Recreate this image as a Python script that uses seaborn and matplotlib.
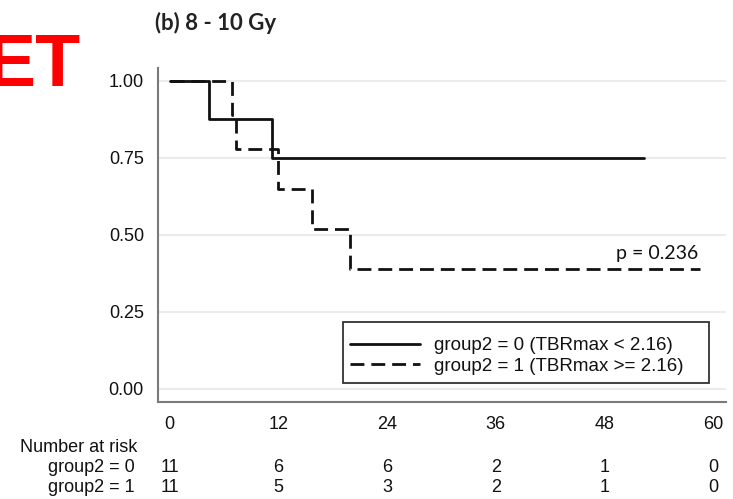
import numpy as np
import pandas as pd
import matplotlib
matplotlib.use("Agg")
import matplotlib.pyplot as plt
import matplotlib.patches as mpatches
import matplotlib.transforms as mtransforms
import seaborn as sns

# Kaplan-Meier step points (months, survival probability)
time_g0 = [0, 4.39, 11.28, 52.4]
surv_g0 = [1.0, 0.875, 0.75, 0.75]
time_g1 = [0, 6.86, 7.3, 11.94, 15.69, 19.9, 58.5]
surv_g1 = [1.0, 0.889, 0.778, 0.648, 0.519, 0.389, 0.389]

group_labels = ["group2 = 0 (TBRmax < 2.16)", "group2 = 1 (TBRmax >= 2.16)"]
risk_names = ["group2 = 0", "group2 = 1"]
risk_times = [0, 12, 24, 36, 48, 60]
risk_g0 = [11, 6, 6, 2, 1, 0]
risk_g1 = [11, 5, 3, 2, 1, 0]
x_ticks = [0, 12, 24, 36, 48, 60]
y_ticks = [0.0, 0.25, 0.50, 0.75, 1.00]
p_text = "p = 0.236"
title_text = "(b) 8 - 10 Gy"

df = pd.concat([
    pd.DataFrame({"time": time_g0, "surv": surv_g0, "group": group_labels[0]}),
    pd.DataFrame({"time": time_g1, "surv": surv_g1, "group": group_labels[1]}),
], ignore_index=True)

sns.set_theme(style="white")
plt.rcParams["font.family"] = ["Liberation Sans", "DejaVu Sans"]

W, H = 733, 499
fig = plt.figure(figsize=(W / 100, H / 100), dpi=100)
ax = fig.add_axes([158 / W, 1 - 402 / H, (726 - 158) / W, (402 - 68) / H])

sns.lineplot(
    data=df, x="time", y="surv", style="group", hue="group",
    palette={group_labels[0]: "#111111", group_labels[1]: "#111111"},
    dashes={group_labels[0]: "", group_labels[1]: (5, 2.5)},
    drawstyle="steps-post", linewidth=2.0, estimator=None, sort=False,
    ax=ax, legend=False,
)

ax.set_xlim(-1.27, 61.4)
ax.set_ylim(-0.0435, 1.041)
ax.set_xticks(x_ticks)
ax.set_yticks(y_ticks)
ax.set_yticklabels([f"{v:.2f}" for v in y_ticks])
ax.set_xlabel("")
ax.set_ylabel("")

ax.grid(axis="y", color="#ebebeb", linewidth=1.5)
ax.grid(axis="x", visible=False)
ax.set_axisbelow(True)
for side in ["top", "right"]:
    ax.spines[side].set_visible(False)
for side in ["left", "bottom"]:
    ax.spines[side].set_color("#7a7a7a")
    ax.spines[side].set_linewidth(1.5)
ax.tick_params(axis="both", direction="out", width=1.2, color="#7a7a7a",
               labelsize=13, labelcolor="#111111")
ax.tick_params(axis="y", length=6.5, pad=3.6)
ax.tick_params(axis="x", length=5, pad=5)

# Legend: entries plus a plain rectangular frame
handles = ax.get_lines()[:2]
leg = fig.legend(handles, group_labels, loc="center left",
                 bbox_to_anchor=(350 / W, 1 - 356 / H), bbox_transform=fig.transFigure,
                 frameon=False, fontsize=13.5, handlelength=3.75, handletextpad=0.75,
                 borderpad=0, labelspacing=0.2, borderaxespad=0)
for t in leg.get_texts():
    t.set_color("#111111")
fig.patches.append(mpatches.Rectangle(
    (342.7 / W, 1 - 383.3 / H), (709.3 - 342.7) / W, (383.3 - 322.3) / H,
    transform=fig.transFigure, fill=False, edgecolor="#333333", linewidth=1.3))

# p-value annotation
fig.text(698 / W, 1 - 253 / H, p_text, ha="right", va="center", fontsize=14,
         family=["Lato", "DejaVu Sans"], color="#111111")

# Title and panel tag
fig.text(155 / W, 1 - 23 / H, title_text, ha="left", va="center", fontsize=16,
         family=["Lato", "DejaVu Sans"], fontweight="bold", color="#222222")
fig.text(-14 / W, 1 - 66 / H, "ET", ha="left", va="center", fontsize=53,
         fontweight="bold", color="#ff0000")

# Number-at-risk table
trans = mtransforms.blended_transform_factory(ax.transData, fig.transFigure)
fig.text(20 / W, 1 - 447 / H, "Number at risk", ha="left", va="center", fontsize=13,
         color="#111111")
for row_y, name, counts in [(468, risk_names[0], risk_g0), (488, risk_names[1], risk_g1)]:
    fig.text(135 / W, 1 - row_y / H, name, ha="right", va="center", fontsize=13,
             color="#111111")
    for t, n in zip(risk_times, counts):
        ax.text(t, 1 - row_y / H, str(n), transform=trans, ha="center", va="center",
                fontsize=13, color="#111111")

fig.savefig("out.png", dpi=100)
